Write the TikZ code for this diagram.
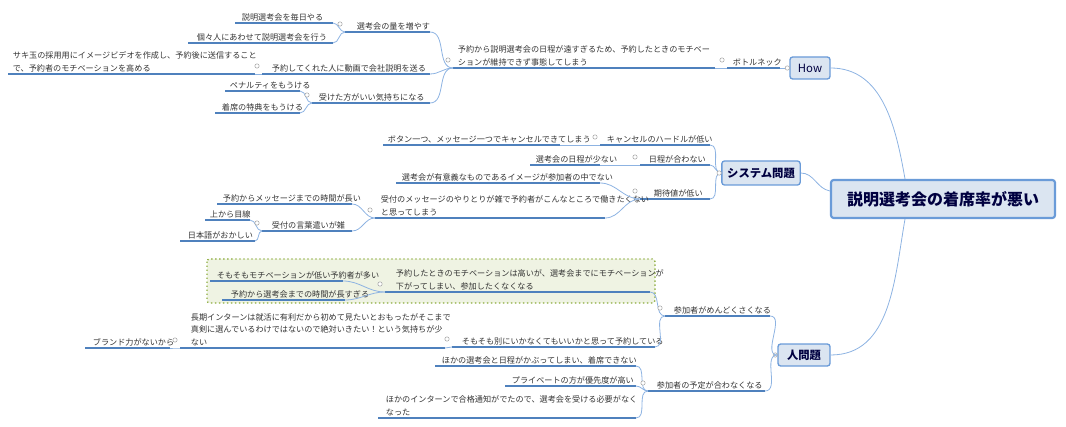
\documentclass[tikz,border=0pt]{standalone}
\usepackage{fontspec}
\setmainfont{Noto Sans CJK JP}
\usetikzlibrary{calc}
\begin{document}
\definecolor{ul}{HTML}{4F81BD}
\definecolor{cv}{HTML}{8DB3E2}
\definecolor{bx}{HTML}{DBE5F1}
\definecolor{bd}{HTML}{6A9BD8}
\definecolor{tx}{HTML}{333333}
\definecolor{gf}{HTML}{EFF3E3}
\definecolor{gb}{HTML}{8AAA3A}
\begin{tikzpicture}[x=0.75pt,y=-0.75pt,
  uline/.style={ul,line width=1.2pt},
  br/.style={cv,line width=0.6pt},
  txt/.style={inner sep=1.2pt,align=left,text=tx,font=\fontsize{6.1}{9.6}\selectfont},
  box/.style={draw=bd,line width=1pt,fill=bx,rounded corners=2pt,text=black!75!blue,inner sep=4pt},
  mk/.style={draw=gray!70,line width=0.4pt,fill=white}]
\useasboundingbox (0,0) rectangle (1066,427);
\newcommand\tp[6]{%
 \coordinate (#1-l) at (#2,#4); \coordinate (#1-r) at (#3,#4);
 \draw[uline] (#1-l)--(#1-r);
 \node[txt,anchor=south west] (#1) at (#5,#4) {#6};}
\newcommand\mkr[1]{\draw[mk] ($(#1-l)+(-5,-8)$) circle (2.2);}
\newcommand\cn[2]{\draw[br] (#1-l) to[out=180,in=0] (#2-r);}
% green box
\draw[draw=gb,dotted,line width=1pt,fill=gf,rounded corners=2pt] (207,259) rectangle (655,303);
% root and main
\node[box,line width=1.6pt,font=\fontsize{12}{14}\bfseries\selectfont,minimum width=224*0.75pt,minimum height=38*0.75pt] (root) at (943,199) {説明選考会の着席率が悪い};
\node[box,font=\fontsize{8.5}{10}\selectfont,minimum width=40*0.75pt,minimum height=22*0.75pt] (how) at (810,68) {How};
\node[box,font=\fontsize{8.5}{10}\bfseries\selectfont,minimum width=78*0.75pt,minimum height=24*0.75pt] (sys) at (761,173) {システム問題};
\node[box,font=\fontsize{8.5}{10}\bfseries\selectfont,minimum width=52*0.75pt,minimum height=22*0.75pt] (hito) at (804,355) {人問題};
\draw[br] (root.north) ++(-38,0) coordinate (rt) to[out=100,in=0] (how.east);
\draw[br] (root.west) ++(0,-8) to[out=170,in=0] (sys.east);
\draw[br] (root.south) ++(-38,0) to[out=-100,in=0] (hito.east);
% How
\tp{bn}{727}{780}{68}{731}{ボトルネック}
\draw[br] (how.west)--(bn-r);
\tp{yo}{453}{715}{68}{456}{予約から説明選考会の日程が遠すぎるため、予約したときのモチベー\\ションが維持できず事態してしまう}
\draw[br] (bn-l)--(yo-r); \mkr{bn}\mkr{yo}
\tp{ry}{345}{430}{32}{355}{選考会の量を増やす}
\tp{a1}{235}{333}{23}{240}{説明選考会を毎日やる}
\tp{a2}{188}{333}{43}{195}{個々人にあわせて説明選考会を行う}
\tp{dg}{262}{430}{74}{270}{予約してくれた人に動画で会社説明を送る}
\tp{sk}{8}{255}{74}{11}{サキ玉の採用用にイメージビデオを作成し、予約後に送信すること\\で、予約者のモチベーションを高める}
\tp{uk}{312}{430}{103}{317}{受けた方がいい気持ちになる}
\tp{pn}{225}{300}{91}{228}{ペナルティをもうける}
\tp{tk}{215}{300}{113}{220}{着席の特典をもうける}
\cn{yo}{ry}\cn{yo}{dg}\cn{yo}{uk}\cn{ry}{a1}\cn{ry}{a2}\cn{dg}{sk}\cn{uk}{pn}\cn{uk}{tk}
\mkr{ry}\mkr{dg}\mkr{uk}
% System
\tp{cc}{600}{710}{145}{605}{キャンセルのハードルが低い}
\tp{bt}{383}{560}{145}{386}{ボタン一つ、メッセージ一つでキャンセルできてしまう}
\tp{nt}{640}{710}{165}{647}{日程が合わない}
\tp{ns}{530}{600}{165}{534}{選考会の日程が少ない}
\tp{kt}{640}{710}{199}{652}{期待値が低い}
\tp{im}{396}{600}{183}{400}{選考会が有意義なものであるイメージが参加者の中でない}
\tp{uf}{375}{605}{218}{379}{受付のメッセージのやりとりが雑で予約者がこんなところで働きたくない\\と思ってしまう}
\tp{jk}{217}{352}{204}{221}{予約からメッセージまでの時間が長い}
\tp{kz}{262}{352}{231}{270}{受付の言葉遣いが雑}
\tp{ue}{205}{250}{220}{208}{上から目線}
\tp{ng}{180}{255}{241}{186}{日本語がおかしい}
\draw[br] (sys.west) to[out=180,in=0] (cc-r);
\draw[br] (sys.west) to[out=180,in=0] (nt-r);
\draw[br] (sys.west) to[out=180,in=0] (kt-r);
\draw[br] (cc-l)--(bt-r); \draw[br] (nt-l)--(ns-r);
\cn{kt}{im}\cn{kt}{uf}\cn{uf}{jk}\cn{uf}{kz}\cn{kz}{ue}\cn{kz}{ng}
\mkr{cc}\mkr{nt}\mkr{kt}\mkr{uf}\mkr{kz}
\draw[mk] ($(sys.west)+(-2,0)$) circle (2.2);
\draw[mk] ($(how.west)+(-2,0)$) circle (2.2);
\draw[mk] ($(hito.west)+(-2,0)$) circle (2.2);
% Hito
\tp{md}{665}{770}{316}{672}{参加者がめんどくさくなる}
\tp{mo}{385}{650}{292}{394}{予約したときのモチベーションは高いが、選考会までにモチベーションが\\下がってしまい、参加したくなくなる}
\tp{s1}{210}{343}{281}{215}{そもそもモチベーションが低い予約者が多い}
\tp{s2}{222}{345}{300}{229}{予約から選考会までの時間が長すぎる}
\tp{bs}{452}{655}{347}{460}{そもそも別にいかなくてもいいかと思って予約している}
\tp{ck}{180}{445}{348}{189}{長期インターンは就活に有利だから初めて見たいとおもったがそこまで\\真剣に選んでいるわけではないので絶対いきたい！という気持ちが少\\ない}
\tp{bd}{85}{170}{348}{91}{ブランド力がないから}
\tp{yt}{648}{765}{391}{655}{参加者の予定が合わなくなる}
\tp{h1}{435}{636}{366}{440}{ほかの選考会と日程がかぶってしまい、着席できない}
\tp{h2}{505}{636}{386}{510}{プライベートの方が優先度が高い}
\tp{h3}{378}{636}{418}{384}{ほかのインターンで合格通知がでたので、選考会を受ける必要がなく\\なった}
\draw[br] (hito.west) to[out=180,in=0] (md-r);
\draw[br] (hito.west) to[out=180,in=0] (yt-r);
\cn{md}{mo}\cn{md}{bs}\cn{mo}{s1}\cn{mo}{s2}\cn{bs}{ck}\cn{ck}{bd}
\cn{yt}{h1}\cn{yt}{h2}\cn{yt}{h3}
\mkr{md}\mkr{mo}\mkr{bs}\mkr{ck}\mkr{yt}
\end{tikzpicture}
\end{document}
